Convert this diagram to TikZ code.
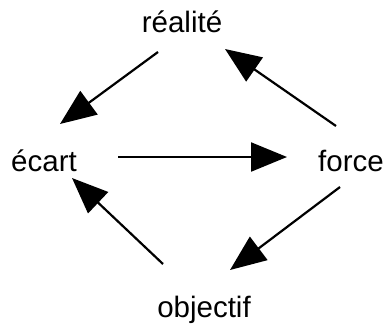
\documentclass[tikz,border=0pt]{standalone}
\usepackage{fontspec}
\setmainfont{Liberation Sans}
\usetikzlibrary{arrows.meta}
\begin{document}
\begin{tikzpicture}[x=1pt,y=-1pt,
  lbl/.style={anchor=base,inner sep=0pt,font=\fontsize{29.5}{34}\selectfont},
  arr/.style={line width=2.2pt,-{Triangle[length=36pt,width=29pt]}}]
\useasboundingbox (0,0) rectangle (387,327);
\node[lbl] (real) at (182,32) {réalité};
\node[lbl] (ecart) at (44,171) {écart};
\node[lbl] (force) at (351,171) {force};
\node[lbl] (obj) at (204,317) {objectif};
\coordinate (a1s) at (158,52);  \coordinate (a1e) at (60,124);
\coordinate (a2s) at (336,126); \coordinate (a2e) at (225,49);
\coordinate (a3s) at (118,157); \coordinate (a3e) at (287,157);
\coordinate (a4s) at (340,187); \coordinate (a4e) at (230,270);
\coordinate (a5s) at (163,264); \coordinate (a5e) at (72,178);
\draw[arr] (a1s) -- (a1e);
\draw[arr] (a2s) -- (a2e);
\draw[arr] (a3s) -- (a3e);
\draw[arr] (a4s) -- (a4e);
\draw[arr] (a5s) -- (a5e);
\end{tikzpicture}
\end{document}
